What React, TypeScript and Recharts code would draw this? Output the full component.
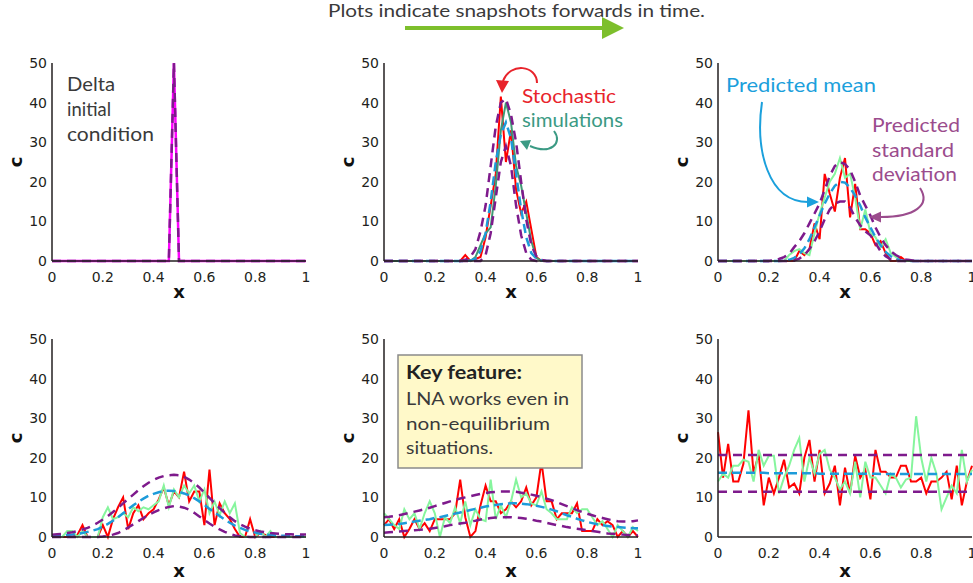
import React from 'react';
import { LineChart, Line, XAxis, YAxis } from 'recharts';

// Spatial grid shared by every snapshot
const X_GRID = [
  0, 0.02, 0.04, 0.06, 0.08, 0.1, 0.12, 0.14, 0.16, 0.18,
  0.2, 0.22, 0.24, 0.26, 0.28, 0.3, 0.32, 0.34, 0.36, 0.38,
  0.4, 0.42, 0.44, 0.46, 0.48, 0.5, 0.52, 0.54, 0.56, 0.58,
  0.6, 0.62, 0.64, 0.66, 0.68, 0.7, 0.72, 0.74, 0.76, 0.78,
  0.8, 0.82, 0.84, 0.86, 0.88, 0.9, 0.92, 0.94, 0.96, 0.98,
  1,
];

const X_TICKS = [0, 0.2, 0.4, 0.6, 0.8, 1];
const Y_TICKS = [0, 10, 20, 30, 40, 50];
const PANEL_TITLES = ['t = 0', 't = 0.001', 't = 0.003', 't = 0.01', 't = 0.03', 't = 0.3'];

// t = 0 : delta initial condition
const deltaT0 = [
  0, 0, 0, 0, 0, 0, 0, 0, 0, 0,
  0, 0, 0, 0, 0, 0, 0, 0, 0, 0,
  0, 0, 0, 0, 50, 0, 0, 0, 0, 0,
  0, 0, 0, 0, 0, 0, 0, 0, 0, 0,
  0, 0, 0, 0, 0, 0, 0, 0, 0, 0,
  0,
];

// t = 0.001
const simRedT1 = [
  0, 0, 0, 0, 0, 0, 0, 0, 0, 0,
  0, 0, 0, 0, 0, 0, 1.5, 0, 0.5, 1,
  6, 14, 22, 41.5, 25, 33, 18, 12, 15, 8,
  1, 0, 0, 0, 0, 0, 0, 0, 0, 0,
  0, 0, 0, 0, 0, 0, 0, 0, 0, 0,
  0,
];
const simGreenT1 = [
  0, 0, 0, 0, 0, 0, 0, 0, 0, 0,
  0, 0, 0, 0, 0, 0, 0, 0, 1, 4,
  7, 8.5, 19, 33, 40, 35, 24, 19, 12, 5,
  0.8, 0, 0, 0, 0, 0, 0, 0, 0, 0,
  0, 0, 0, 0, 0, 0, 0, 0, 0, 0,
  0,
];
const meanT1 = [
  0, 0, 0, 0, 0, 0, 0, 0, 0, 0,
  0, 0, 0, 0, 0, 0, 0, 0.1, 0.6, 2.5,
  7, 15, 25, 32, 35, 31, 22, 13, 6, 2,
  0.6, 0.2, 0, 0, 0, 0, 0, 0, 0, 0,
  0, 0, 0, 0, 0, 0, 0, 0, 0, 0,
  0,
];
const upperT1 = [
  0, 0, 0, 0, 0, 0, 0, 0, 0, 0,
  0, 0, 0, 0, 0, 0, 0.3, 1, 3, 7.5,
  14, 24, 34, 40, 41, 37, 30, 20, 10.5, 4,
  1.2, 0.3, 0, 0, 0, 0, 0, 0, 0, 0,
  0, 0, 0, 0, 0, 0, 0, 0, 0, 0,
  0,
];
const lowerT1 = [
  0, 0, 0, 0, 0, 0, 0, 0, 0, 0,
  0, 0, 0, 0, 0, 0, 0, 0, 0, 0,
  1.5, 7, 16, 25, 29, 24, 14, 6.5, 2, 0.3,
  0, 0, 0, 0, 0, 0, 0, 0, 0, 0,
  0, 0, 0, 0, 0, 0, 0, 0, 0, 0,
  0,
];

// t = 0.003
const simRedT2 = [
  0, 0, 0, 0, 0, 0, 0, 0, 0, 0,
  0, 0, 0, 0, 0, 0, 2.5, 1.5, 3, 9.5,
  5.5, 22, 17, 12.5, 21, 26, 11, 19.5, 8, 8,
  7, 4, 5, 2, 0, 0, 1, 0, 0, 0,
  0, 0, 0, 0, 0, 0, 0, 0, 0, 0,
  0,
];
const simGreenT2 = [
  0, 0, 0, 0, 0, 0, 0, 0, 0, 0,
  0, 0, 0, 0, 1.5, 2.5, 3, 2, 1.5, 7,
  12, 16, 20, 22, 26, 21, 22, 16, 8, 13,
  7, 6, 3.5, 5.5, 2, 1, 0, 0, 0, 0,
  0, 0, 0, 0, 0, 0, 0, 0, 0, 0,
  0,
];
const meanT2 = [
  0, 0, 0, 0, 0, 0, 0, 0, 0, 0,
  0, 0, 0, 0.1, 0.3, 0.8, 1.7, 3.2, 5.5, 8.5,
  11.5, 14.5, 17, 19, 20, 19.8, 18.5, 16.5, 14, 11,
  8.5, 6, 4, 2.3, 1.2, 0.5, 0.2, 0, 0, 0,
  0, 0, 0, 0, 0, 0, 0, 0, 0, 0,
  0,
];
const upperT2 = [
  0, 0, 0, 0, 0, 0, 0, 0, 0, 0,
  0, 0.2, 0.5, 1, 1.8, 3.5, 5, 7, 9.5, 12,
  14.5, 18, 21.5, 24, 25, 24.5, 23, 20, 16.5, 14,
  11.5, 8.5, 6, 4, 2.5, 1.5, 0.8, 0.4, 0.2, 0,
  0, 0, 0, 0, 0, 0, 0, 0, 0, 0,
  0,
];
const lowerT2 = [
  0, 0, 0, 0, 0, 0, 0, 0, 0, 0,
  0, 0, 0, 0, 0, 0.1, 0.6, 1.5, 3, 5,
  7.5, 10.5, 13, 14.5, 15, 15, 13.5, 11, 9, 7.5,
  6.5, 4.5, 2.5, 1.2, 0.4, 0, 0, 0, 0, 0,
  0, 0, 0, 0, 0, 0, 0, 0, 0, 0,
  0,
];

// t = 0.01
const simRedT3 = [
  0, 0, 0, 0, 0, 0.5, 3, 0, 0, 0,
  3, 0, 4.5, 7.5, 10, 2, 6, 8, 4.5, 6,
  7, 9.5, 12.5, 8, 11.5, 10, 16.5, 9, 11.5, 11.5,
  3, 17, 3, 8.5, 6, 4.5, 2, 0, 0, 4.5,
  0, 1, 0.5, 0, 0, 0, 0, 0, 0, 0,
  0,
];
const simGreenT3 = [
  0, 0, 0, 1.5, 1.5, 0, 1.5, 0, 0, 0,
  5, 7.5, 4.5, 5, 6, 5, 7.5, 6.5, 7.5, 7,
  8, 9, 13, 7.5, 12, 10, 13, 11, 13, 9,
  12, 6, 9, 5.5, 9, 6, 8.5, 1, 0, 0,
  0, 1.5, 0, 1.5, 0, 0, 0, 0, 0, 0,
  0,
];
const meanT3 = [
  0.2, 0.3, 0.4, 0.5, 0.6, 0.8, 1, 1.3, 1.6, 2,
  2.6, 3.3, 4.1, 5, 6, 7, 8, 8.9, 9.7, 10.4,
  10.9, 11.3, 11.6, 11.7, 11.6, 11.4, 11, 10.5, 9.8, 9,
  8.1, 7.1, 6.2, 5.3, 4.4, 3.6, 2.9, 2.3, 1.8, 1.4,
  1.1, 0.8, 0.6, 0.5, 0.4, 0.3, 0.3, 0.2, 0.2, 0.2,
  0.2,
];
const upperT3 = [
  0.6, 0.7, 0.8, 1, 1.2, 1.5, 1.9, 2.3, 2.9, 3.6,
  4.4, 5.3, 6.3, 7.4, 8.5, 9.6, 10.7, 11.8, 12.8, 13.7,
  14.4, 15, 15.4, 15.6, 15.7, 15.6, 15.2, 14.5, 13.6, 12.5,
  11.2, 9.9, 8.6, 7.3, 6.1, 5, 4, 3.2, 2.6, 2.1,
  1.7, 1.4, 1.2, 1, 0.9, 0.8, 0.7, 0.7, 0.6, 0.6,
  0.6,
];
const lowerT3 = [
  0, 0, 0, 0, 0, 0, 0, 0, 0, 0,
  0.1, 0.3, 0.6, 1, 1.6, 2.4, 3.2, 4, 4.8, 5.6,
  6.2, 6.8, 7.2, 7.6, 7.8, 7.7, 7.4, 6.9, 6.1, 5.2,
  4.3, 3.4, 2.6, 1.9, 1.3, 0.8, 0.4, 0.2, 0.1, 0,
  0, 0, 0, 0, 0, 0, 0, 0, 0, 0,
  0,
];

// t = 0.03
const simRedT4 = [
  3, 4.5, 2, 4.5, 0, 2, 4.5, 2, 3.5, 1.5,
  4.5, 4.5, 4.5, 4.5, 6, 14.5, 5, 0, 1.5, 8,
  13, 9, 9, 6, 7, 9, 7.5, 9, 12.5, 8,
  10, 19, 9, 9, 4.5, 6, 6, 6, 8.5, 1.5,
  1.5, 1.5, 4.5, 3, 4, 3, 0, 1.5, 0, 1.5,
  0,
];
const simGreenT4 = [
  6, 4.5, 3, 2, 7, 4.5, 6, 2, 6, 9,
  6, 0, 5, 3.5, 7.5, 3.5, 9, 3, 7, 4.5,
  4, 14.5, 4.5, 8, 5, 9, 14.5, 10, 11, 8.5,
  8, 11.5, 7, 6, 4.5, 4.5, 4.5, 7.5, 6, 7,
  7, 5, 3, 4, 2, 0, 3, 1.5, 0, 2.5,
  1.5,
];
const meanT4 = [
  3, 3.1, 3.2, 3.3, 3.5, 3.7, 3.9, 4.1, 4.3, 4.5,
  4.8, 5, 5.3, 5.6, 5.9, 6.2, 6.5, 6.8, 7.1, 7.4,
  7.7, 7.9, 8.1, 8.3, 8.4, 8.5, 8.5, 8.4, 8.3, 8.1,
  7.9, 7.6, 7.3, 6.9, 6.5, 6, 5.5, 5.1, 4.6, 4.2,
  3.8, 3.5, 3.2, 3, 2.8, 2.6, 2.5, 2.4, 2.3, 2.2,
  2.2,
];
const upperT4 = [
  5, 5.1, 5.3, 5.5, 5.8, 6.1, 6.4, 6.7, 7, 7.4,
  7.8, 8.2, 8.6, 9, 9.4, 9.7, 10, 10.3, 10.6, 10.9,
  11.1, 11.3, 11.4, 11.5, 11.5, 11.5, 11.4, 11.2, 11, 10.7,
  10.4, 10.1, 9.7, 9.3, 8.8, 8.3, 7.8, 7.3, 6.8, 6.3,
  5.9, 5.5, 5.1, 4.8, 4.5, 4.2, 4, 3.9, 3.9, 4,
  4.2,
];
const lowerT4 = [
  1.1, 1.2, 1.3, 1.4, 1.5, 1.6, 1.7, 1.8, 1.9, 2.1,
  2.3, 2.5, 2.7, 3, 3.2, 3.4, 3.6, 3.9, 4.1, 4.4,
  4.6, 4.8, 4.9, 5, 5, 5, 4.9, 4.8, 4.6, 4.4,
  4.1, 3.9, 3.6, 3.3, 3, 2.8, 2.5, 2.3, 2.1, 1.9,
  1.7, 1.5, 1.3, 1.1, 0.9, 0.8, 0.7, 0.6, 0.5, 0.4,
  0.4,
];

// t = 0.3 : stationary state
const simRedT5 = [
  26.5, 15, 23.5, 14, 14, 18.5, 32, 16, 21, 8,
  15, 11, 15, 19.5, 12.5, 13.5, 11, 20, 24.5, 14,
  22, 11, 13.5, 18, 8, 17.5, 11, 20.5, 15, 17,
  9.5, 22, 16.5, 16.5, 15, 15, 18, 18, 14, 14,
  15, 11, 14, 14, 15, 16.5, 9.5, 18, 8, 14,
  18,
];
const simGreenT5 = [
  14, 16, 15, 18, 18, 19.5, 19, 14, 22, 18,
  20.5, 20.5, 11, 15, 18, 22, 25, 14, 20, 16,
  21, 22, 17, 15, 12, 14, 11, 19, 10, 19,
  15, 15, 13, 11, 16, 15, 12.5, 14.5, 15, 30.5,
  20, 14, 20, 16, 7, 10, 13, 11, 22, 14,
  17,
];
const meanT5 = [
  16.2, 16.2, 16.2, 16.2, 16.2, 16.2, 16.2, 16.2, 16.2, 16.2,
  16.1, 16.1, 16.1, 16.1, 16.1, 16.1, 16.1, 16.1, 16.1, 16.1,
  16, 16, 16, 16, 16, 16, 16, 16, 16, 16,
  16, 16, 15.9, 15.9, 15.9, 15.9, 15.9, 15.9, 15.9, 15.9,
  15.9, 15.9, 15.9, 15.9, 15.9, 15.9, 15.9, 15.9, 15.9, 15.9,
  15.9,
];
const upperT5 = [
  20.7, 20.7, 20.7, 20.7, 20.7, 20.7, 20.7, 20.7, 20.7, 20.7,
  20.7, 20.7, 20.7, 20.7, 20.7, 20.7, 20.7, 20.7, 20.7, 20.7,
  20.7, 20.7, 20.7, 20.7, 20.7, 20.7, 20.7, 20.7, 20.7, 20.7,
  20.7, 20.7, 20.7, 20.7, 20.7, 20.7, 20.7, 20.7, 20.7, 20.7,
  20.7, 20.7, 20.7, 20.7, 20.7, 20.7, 20.7, 20.7, 20.7, 20.7,
  20.7,
];
const lowerT5 = [
  11.4, 11.4, 11.4, 11.4, 11.4, 11.4, 11.4, 11.4, 11.4, 11.4,
  11.4, 11.4, 11.4, 11.4, 11.4, 11.4, 11.4, 11.4, 11.4, 11.4,
  11.4, 11.4, 11.4, 11.4, 11.4, 11.4, 11.4, 11.4, 11.4, 11.4,
  11.4, 11.4, 11.4, 11.4, 11.4, 11.4, 11.4, 11.4, 11.4, 11.4,
  11.4, 11.4, 11.4, 11.4, 11.4, 11.4, 11.4, 11.4, 11.4, 11.4,
  11.4,
];

// ---- styling ----
const FRAME = '#231F20';
const AXIS_FONT = '"DejaVu Sans", Arial, sans-serif';
const NOTE_FONT = 'Lato, "Noto Sans", sans-serif';

type Style = { color: string; width: number; dash?: string };
const RED: Style = { color: '#FF0000', width: 2 };
const LIGHT_GREEN: Style = { color: '#86F59D', width: 2 };
const DARK_GREEN: Style = { color: '#3F9A74', width: 2 };
const MEAN: Style = { color: '#1D9BD9', width: 2.5, dash: '9 5' };
const STD: Style = { color: '#7E1A8C', width: 2.5, dash: '9 6' };
const DELTA: Style = { color: '#FF00FF', width: 2.5 };

type Series = { key: string; values: number[]; style: Style };

const PLOT_W = 254;
const PLOT_H = 198;
const Y_AXIS_W = 52;
const TOP_ROOM = 30;
const X_AXIS_H = 46;

const TitleLabel = (title: string) => (props: any) => {
  const vb = props.viewBox || {};
  return (
    <text
      x={vb.x + vb.width / 2}
      y={vb.y - 14}
      textAnchor="middle"
      dominantBaseline="central"
      fontFamily={AXIS_FONT}
      fontWeight="bold"
      fontSize={16}
      fill="#111"
    >
      {title}
    </text>
  );
};

const XLabel = (dy: number) => (props: any) => {
  const vb = props.viewBox || {};
  return (
    <text
      x={vb.x + vb.width / 2}
      y={vb.y + dy}
      textAnchor="middle"
      dominantBaseline="central"
      fontFamily={AXIS_FONT}
      fontWeight="bold"
      fontSize={18}
      fill="#111"
    >
      x
    </text>
  );
};

const CLabel = (props: any) => {
  const vb = props.viewBox || {};
  const cx = vb.x + 15;
  const cy = vb.y + vb.height / 2;
  return (
    <text
      x={cx}
      y={cy}
      transform={`rotate(-90, ${cx}, ${cy})`}
      textAnchor="middle"
      dominantBaseline="central"
      fontFamily={AXIS_FONT}
      fontWeight="bold"
      fontSize={18}
      fill="#111"
    >
      c
    </text>
  );
};

const tickStyle = { fontSize: 14, fill: '#231F20', fontFamily: AXIS_FONT };

function Panel(props: { left: number; top: number; title: string; series: Series[]; xLabelDy: number }) {
  const { left, top, title, series, xLabelDy } = props;
  const rows = X_GRID.map((x, i) => {
    const row: Record<string, number> = { x };
    series.forEach((s) => {
      row[s.key] = s.values[i];
    });
    return row;
  });
  return (
    <div style={{ position: 'absolute', left: left - Y_AXIS_W, top: top - TOP_ROOM }}>
      <LineChart
        width={Y_AXIS_W + PLOT_W + 4}
        height={TOP_ROOM + PLOT_H + X_AXIS_H}
        data={rows}
        margin={{ top: TOP_ROOM, right: 4, bottom: 0, left: 0 }}
      >
        <XAxis
          dataKey="x"
          type="number"
          domain={[0, 1]}
          ticks={X_TICKS}
          interval={0}
          tickLine={false}
          tickSize={0}
          tickMargin={11}
          tick={tickStyle}
          axisLine={{ stroke: FRAME, strokeWidth: 1.5 }}
          height={X_AXIS_H}
          label={XLabel(xLabelDy)}
        />
        <XAxis
          xAxisId="top"
          orientation="top"
          dataKey="x"
          type="number"
          domain={[0, 1]}
          height={0}
          tick={false}
          tickLine={false}
          axisLine={{ stroke: FRAME, strokeWidth: 1.5 }}
          label={TitleLabel(title)}
        />
        <YAxis
          type="number"
          domain={[0, 50]}
          ticks={Y_TICKS}
          interval={0}
          width={Y_AXIS_W}
          tickLine={false}
          tickSize={0}
          tickMargin={5}
          tick={tickStyle}
          axisLine={{ stroke: FRAME, strokeWidth: 1.5 }}
          label={CLabel}
        />
        <YAxis
          yAxisId="right"
          orientation="right"
          type="number"
          domain={[0, 50]}
          width={0}
          tick={false}
          tickLine={false}
          axisLine={{ stroke: FRAME, strokeWidth: 1.5 }}
        />
        {series.map((s) => (
          <Line
            key={s.key}
            type="linear"
            dataKey={s.key}
            stroke={s.style.color}
            strokeWidth={s.style.width}
            strokeDasharray={s.style.dash}
            dot={false}
            activeDot={false}
            isAnimationActive={false}
          />
        ))}
      </LineChart>
    </div>
  );
}

const panels = [
  {
    left: 52, top: 63, xLabelDy: 30,
    series: [
      { key: 'delta', values: deltaT0, style: DELTA },
      { key: 'std', values: deltaT0, style: STD },
    ],
  },
  {
    left: 384, top: 63, xLabelDy: 30,
    series: [
      { key: 'red', values: simRedT1, style: RED },
      { key: 'green', values: simGreenT1, style: DARK_GREEN },
      { key: 'mean', values: meanT1, style: MEAN },
      { key: 'upper', values: upperT1, style: STD },
      { key: 'lower', values: lowerT1, style: STD },
    ],
  },
  {
    left: 718, top: 63, xLabelDy: 30,
    series: [
      { key: 'red', values: simRedT2, style: RED },
      { key: 'green', values: simGreenT2, style: LIGHT_GREEN },
      { key: 'mean', values: meanT2, style: MEAN },
      { key: 'upper', values: upperT2, style: STD },
      { key: 'lower', values: lowerT2, style: STD },
    ],
  },
  {
    left: 52, top: 339, xLabelDy: 33,
    series: [
      { key: 'red', values: simRedT3, style: RED },
      { key: 'green', values: simGreenT3, style: LIGHT_GREEN },
      { key: 'mean', values: meanT3, style: MEAN },
      { key: 'upper', values: upperT3, style: STD },
      { key: 'lower', values: lowerT3, style: STD },
    ],
  },
  {
    left: 384, top: 339, xLabelDy: 33,
    series: [
      { key: 'red', values: simRedT4, style: RED },
      { key: 'green', values: simGreenT4, style: LIGHT_GREEN },
      { key: 'mean', values: meanT4, style: MEAN },
      { key: 'upper', values: upperT4, style: STD },
      { key: 'lower', values: lowerT4, style: STD },
    ],
  },
  {
    left: 718, top: 339, xLabelDy: 33,
    series: [
      { key: 'red', values: simRedT5, style: RED },
      { key: 'green', values: simGreenT5, style: LIGHT_GREEN },
      { key: 'mean', values: meanT5, style: MEAN },
      { key: 'upper', values: upperT5, style: STD },
      { key: 'lower', values: lowerT5, style: STD },
    ],
  },
];

function Notes() {
  const note = (x: number, y: number, s: string, len: number, fill: string, size = 20, bold = false) => (
    <text
      x={x}
      y={y}
      fontFamily={NOTE_FONT}
      fontSize={size}
      fontWeight={bold ? 'bold' : 'normal'}
      fill={fill}
      textLength={len}
      lengthAdjust="spacingAndGlyphs"
    >
      {s}
    </text>
  );
  const MAUVE = '#9B4C8D';
  const TEAL = '#3B9A84';
  const BLUE = '#1BA0DC';
  const RED_NOTE = '#E8232B';
  const GREY = '#3A3A3A';
  return (
    <svg
      width={973}
      height={583}
      style={{ position: 'absolute', left: 0, top: 0, pointerEvents: 'none' }}
    >
      {/* time direction */}
      {note(328, 16.5, 'Plots indicate snapshots forwards in time.', 377, GREY, 18)}
      <rect x={405} y={26} width={198} height={4} fill="#7DBF2C" />
      <polygon points="602,17 624,28 602,39" fill="#7DBF2C" />

      {/* t = 0 */}
      {note(67, 91, 'Delta', 48, GREY, 19.5)}
      {note(67, 116, 'initial', 44, GREY, 19.5)}
      {note(67, 140.5, 'condition', 87, GREY, 19.5)}

      {/* t = 0.001 */}
      {note(522, 103, 'Stochastic', 94, RED_NOTE)}
      {note(522, 127, 'simulations', 101, TEAL)}
      <path d="M537 83 C537 65 510 62 503 81" stroke={RED_NOTE} strokeWidth={2} fill="none" />
      <polygon points="496,80 509,81 502,93" fill={RED_NOTE} />
      <path d="M554 131 C563 143 551 155 530 146" stroke={TEAL} strokeWidth={2} fill="none" />
      <polygon points="520,141 531,140 527,150" fill={TEAL} />

      {/* t = 0.003 */}
      {note(726, 92, 'Predicted mean', 150, BLUE)}
      <path d="M762 102 C755 150 768 202 808 202" stroke={BLUE} strokeWidth={2} fill="none" />
      <polygon points="819,202 807,196.5 807,207.5" fill={BLUE} />
      {note(872, 132, 'Predicted', 88, MAUVE)}
      {note(872, 157, 'standard', 82, MAUVE)}
      {note(872, 181, 'deviation', 85, MAUVE)}
      <path d="M920 188 C931 205 915 217 881 217" stroke={MAUVE} strokeWidth={2} fill="none" />
      <polygon points="869,217 881,211.5 881,222.5" fill={MAUVE} />

      {/* t = 0.03 */}
      <rect x={398} y={355} width={184} height={113} fill="#FFF9C9" stroke="#8A8A8A" strokeWidth={1.5} />
      {note(406, 379, 'Key feature:', 116, '#222', 18, true)}
      {note(406, 405, 'LNA works even in', 163, GREY, 18)}
      {note(406, 430, 'non-equilibrium', 144, GREY, 18)}
      {note(406, 454, 'situations.', 87, GREY, 18)}
    </svg>
  );
}

export default function App() {
  return (
    <div
      style={{
        position: 'absolute',
        left: 0,
        top: 0,
        width: 973,
        height: 583,
        overflow: 'hidden',
        background: '#fff',
      }}
    >
      {panels.map((p, i) => (
        <Panel
          key={PANEL_TITLES[i]}
          left={p.left}
          top={p.top}
          title={PANEL_TITLES[i]}
          series={p.series}
          xLabelDy={p.xLabelDy}
        />
      ))}
      <Notes />
    </div>
  );
}
